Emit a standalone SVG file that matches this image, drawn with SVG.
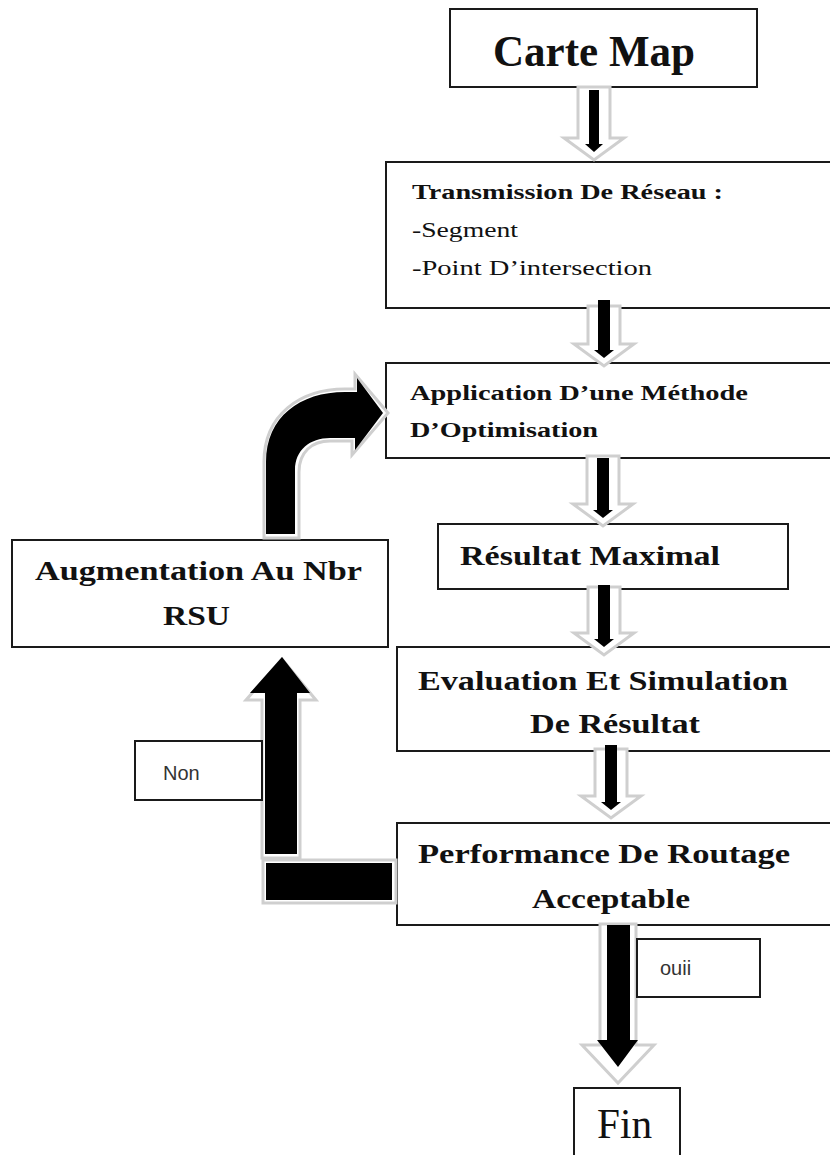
<svg xmlns="http://www.w3.org/2000/svg" width="830" height="1155" viewBox="0 0 830 1155">
<style>
.box{fill:#fff;stroke:#1a1a1a;stroke-width:2}
.t{font-family:"Liberation Serif","Times New Roman",serif;fill:#111}
.b{font-weight:bold}
.s{font-family:"Liberation Sans",Arial,sans-serif;fill:#333}
.halo{fill:#fff;stroke:#cfcfcf;stroke-width:3;stroke-linejoin:miter}
.blk{fill:#000}
</style>
<rect width="830" height="1155" fill="#fff"/>
<g id="n-carte">
<rect class="box" x="450" y="9" width="307" height="78"/>
<text class="t b" x="493" y="66" font-size="44" textLength="202" lengthAdjust="spacingAndGlyphs">Carte Map</text>
</g>
<g id="n-transmission">
<rect class="box" x="386" y="162" width="460" height="146"/>
<text class="t b" x="412" y="199" font-size="20" textLength="311" lengthAdjust="spacingAndGlyphs">Transmission De Réseau :</text>
<text class="t" x="412" y="237" font-size="21" textLength="106" lengthAdjust="spacingAndGlyphs">-Segment</text>
<text class="t" x="412" y="275" font-size="21" textLength="240" lengthAdjust="spacingAndGlyphs">-Point D’intersection</text>
</g>
<g id="n-application">
<rect class="box" x="386" y="363" width="460" height="95"/>
<text class="t b" x="410" y="400" font-size="20" textLength="338" lengthAdjust="spacingAndGlyphs">Application D’une Méthode</text>
<text class="t b" x="410" y="437" font-size="20" textLength="188" lengthAdjust="spacingAndGlyphs">D’Optimisation</text>
</g>
<g id="n-resultat">
<rect class="box" x="438" y="524" width="350" height="65"/>
<text class="t b" x="460" y="565" font-size="27" textLength="260" lengthAdjust="spacingAndGlyphs">Résultat Maximal</text>
</g>
<g id="n-evaluation">
<rect class="box" x="397" y="647" width="450" height="104"/>
<text class="t b" x="418" y="690" font-size="27" textLength="370" lengthAdjust="spacingAndGlyphs">Evaluation Et Simulation</text>
<text class="t b" x="530" y="733" font-size="27" textLength="170" lengthAdjust="spacingAndGlyphs">De Résultat</text>
</g>
<g id="n-performance">
<rect class="box" x="397" y="823" width="450" height="102"/>
<text class="t b" x="418" y="863" font-size="27" textLength="372" lengthAdjust="spacingAndGlyphs">Performance De Routage</text>
<text class="t b" x="532" y="908" font-size="27" textLength="158" lengthAdjust="spacingAndGlyphs">Acceptable</text>
</g>
<g id="n-augmentation">
<rect class="box" x="12" y="540" width="376" height="107"/>
<text class="t b" x="35" y="580" font-size="27" textLength="327" lengthAdjust="spacingAndGlyphs">Augmentation Au Nbr</text>
<text class="t b" x="163" y="625" font-size="27" textLength="67" lengthAdjust="spacingAndGlyphs">RSU</text>
</g>
<g id="n-fin">
<rect class="box" x="574" y="1088" width="106" height="80"/>
<text class="t" x="597" y="1138" font-size="42" textLength="55" lengthAdjust="spacingAndGlyphs">Fin</text>
</g>
<g id="connectors">
<!-- A1 -->
<polygon class="halo" points="578,87 578,138 564,138 594,160 624,138 610,138 610,87"/>
<polygon class="blk" points="589,90 589,144 585,144 594,152 603,144 599,144 599,90"/>
<!-- A2 -->
<polygon class="halo" points="588,306 588,344 574,344 604,366 634,344 620,344 620,306"/>
<polygon class="blk" points="598,300 598,350 594,350 604,358 614,350 610,350 610,300"/>
<!-- A3 -->
<polygon class="halo" points="587,456 587,504 573,504 603,526 633,504 619,504 619,456"/>
<polygon class="blk" points="597,458 597,510 593,510 603,518 613,510 609,510 609,458"/>
<!-- A4 -->
<polygon class="halo" points="588,587 588,633 574,633 604,655 634,633 620,633 620,587"/>
<polygon class="blk" points="598,585 598,639 594,639 604,647 614,639 610,639 610,585"/>
<!-- A5 -->
<polygon class="halo" points="595,749 595,796 581,796 611,818 641,796 627,796 627,749"/>
<polygon class="blk" points="605,745 605,802 601,802 611,810 621,802 617,802 617,745"/>
<!-- A6 oui -->
<polygon class="halo" points="600,924 600,1045 582,1045 618,1083 654,1045 636,1045 636,924"/>
<polygon class="blk" points="607,925 607,1040 597,1040 618,1067 638,1040 630,1040 630,925"/>
<!-- Non: L + up arrow -->
<polygon class="halo" points="262,858 262,700 246,700 282,659 316,700 300,700 300,858"/>
<rect class="halo" x="263" y="860" width="133" height="43"/>
<rect class="blk" x="266" y="863" width="126" height="37"/>
<polygon class="blk" points="265,854 265,693 250,693 282,657 310,693 297,693 297,854"/>
<!-- curved arrow -->
<path class="halo" d="M264,538 L264,462 C264,415 300,389 345,389 L355,389 L355,374 L388,413 L352,455 L352,441 L330,441 C312,441 299,452 299,472 L299,538 Z"/>
<path class="blk" d="M266,534 L266,462 C266,417 300,392 345,392 L357,392 L357,378 L383,413 L355,450 L355,438 L330,438 C310,438 295,450 295,470 L295,534 Z"/>
</g>
<g id="label-non">
<rect class="box" x="135" y="741" width="127" height="59" stroke-width="1.5"/>
<text class="s" x="163" y="780" font-size="20">Non</text>
</g>
<g id="label-oui">
<rect class="box" x="637" y="939" width="123" height="58" stroke-width="1.5"/>
<text class="s" x="660" y="975" font-size="20">ouii</text>
</g>
</svg>
